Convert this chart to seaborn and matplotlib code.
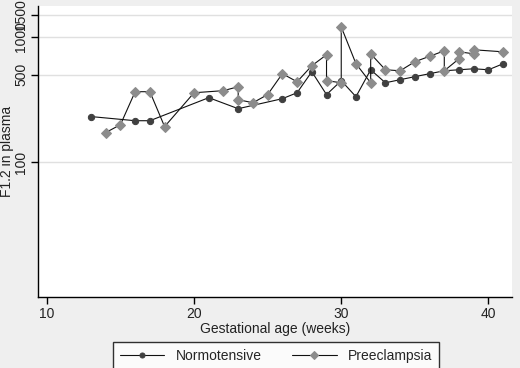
import matplotlib
matplotlib.use("Agg")
import matplotlib.pyplot as plt
import seaborn as sns
import numpy as np
import pandas as pd

# Normotensive group: gestational week and F1.2 level
normo_weeks = [13, 16, 17, 21, 23, 26, 27, 28, 29, 30, 31, 32, 33, 34, 35, 36, 37, 38, 39, 40, 41]
normo_f12 = [232, 215, 215, 328, 268, 322, 359, 528, 347, 448, 334, 547, 431, 456, 482, 509, 537, 547, 557, 547, 611]

# Preeclampsia group (some weeks have two observations)
pre_weeks = [14, 15, 16, 17, 18, 20, 22, 23, 23, 24, 25, 26, 27, 28, 29, 29, 30, 30, 31,
             32, 32, 33, 34, 35, 36, 37, 37, 38, 38, 39, 39, 41]
pre_f12 = [173, 200, 366, 366, 193, 359, 373, 401, 316, 299, 347, 509, 439, 589, 720, 448, 431, 1200, 611,
           431, 733, 547, 537, 634, 700, 774, 537, 669, 760, 733, 789, 760]

y_ticks = [100, 500, 1000, 1500]
x_ticks = [10, 20, 30, 40]

normo = pd.DataFrame({"week": normo_weeks, "f12": normo_f12})
pre = pd.DataFrame({"week": pre_weeks, "f12": pre_f12})

sns.set_theme(style="white")
plt.rcParams["font.family"] = ["Liberation Sans", "DejaVu Sans"]

bg = "#efefef"
fig = plt.figure(figsize=(5.2, 3.68), dpi=100, facecolor=bg)
ax = fig.add_axes([38 / 520, 1 - 297 / 368, (512 - 38) / 520, (297 - 6) / 368])
ax.set_facecolor("white")

sns.lineplot(data=normo, x="week", y="f12", ax=ax, sort=False, estimator=None,
             color="#111111", lw=0.8, marker="o", markersize=4.5,
             markerfacecolor="#404040", markeredgecolor="#404040", label="Normotensive")
sns.lineplot(data=pre, x="week", y="f12", ax=ax, sort=False, estimator=None,
             color="#111111", lw=0.8, marker="D", markersize=5,
             markerfacecolor="#8c8c8c", markeredgecolor="#8c8c8c", label="Preeclampsia")

ax.set_yscale("log")
ax.set_ylim(8.5, 1760)
ax.set_xlim(9.4, 41.6)
ax.set_yticks(y_ticks)
ax.set_yticklabels([str(t) for t in y_ticks])
ax.minorticks_off()
ax.set_xticks(x_ticks)
ax.yaxis.grid(True, color="#e0e0e0", lw=1)
ax.xaxis.grid(False)

for side in ["top", "right"]:
    ax.spines[side].set_visible(False)
for side in ["left", "bottom"]:
    ax.spines[side].set_color("black")
    ax.spines[side].set_linewidth(1)

ax.tick_params(axis="both", which="major", direction="out", length=5, width=1,
               color="black", labelsize=10, labelcolor="#222222", pad=2, left=True, bottom=True)
ax.tick_params(axis="y", labelrotation=90)
for lbl in ax.get_yticklabels():
    lbl.set_va("center")

ax.set_xlabel("Gestational age (weeks)", fontsize=10, color="#222222", labelpad=1)
ax.set_ylabel("F1.2 in plasma", fontsize=10, color="#222222")
ax.yaxis.set_label_coords((14 - 38) / 474, 0.5)

ax.get_legend().remove()
leg = fig.legend(*ax.get_legend_handles_labels(), loc="upper center",
                 bbox_to_anchor=(276 / 520, 1 - 342 / 368), ncol=2, frameon=True,
                 fancybox=False, edgecolor="black", facecolor="white", fontsize=10,
                 handlelength=3.2, columnspacing=2.2, borderpad=0.5, borderaxespad=0,
                 markerscale=0.8)
leg.get_frame().set_linewidth(1)

fig.savefig("out.png", dpi=100, facecolor=bg)
